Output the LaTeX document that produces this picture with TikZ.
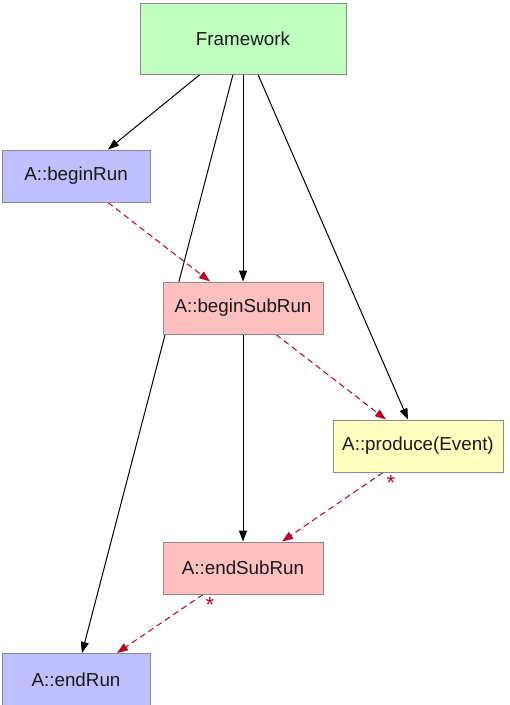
\documentclass[tikz,border=0pt]{standalone}
\usepackage{fontspec}
\setmainfont{Liberation Sans}
\usetikzlibrary{arrows.meta}
\pgfdeclarelayer{edges}
\pgfsetlayers{edges,main}
\definecolor{fwgreen}{HTML}{C0FFC0}
\definecolor{runblue}{HTML}{C0C0FF}
\definecolor{subpink}{HTML}{FFC0C0}
\definecolor{prodyellow}{HTML}{FFFFC0}
\definecolor{boxline}{HTML}{8A8A8A}
\definecolor{seqred}{HTML}{B8002A}
\tikzset{
  box/.style={draw=boxline, line width=1pt, rectangle, inner sep=0pt,
    font=\fontsize{18.8}{21}\selectfont, text=black!90},
  call/.style={black, line width=1pt, -{Triangle[length=11pt,width=8pt]}},
  order/.style={seqred, line width=1pt, dash pattern=on 6pt off 4pt,
    -{Triangle[length=11pt,width=8pt]}},
  many/.style={text=seqred, font=\fontsize{22}{24}\selectfont, inner sep=0pt},
}
\begin{document}
\begin{tikzpicture}[x=1pt,y=-1pt]
  \useasboundingbox (0,0) rectangle (510,705);

  \node[box, fill=fwgreen, minimum width=206pt, minimum height=71pt] (fw) at (243,38.5) {Framework};
  \node[box, fill=runblue, minimum width=148pt, minimum height=52pt] (br) at (76,176) {A::beginRun};
  \node[box, fill=subpink, minimum width=160pt, minimum height=52pt] (bsr) at (243,308) {A::beginSubRun};
  \node[box, fill=prodyellow, minimum width=170pt, minimum height=52pt] (pr) at (418,446) {A::produce(Event)};
  \node[box, fill=subpink, minimum width=160pt, minimum height=52pt] (esr) at (243,568) {A::endSubRun};
  \node[box, fill=runblue, minimum width=148pt, minimum height=52pt] (er) at (76,679.5) {A::endRun};

  \begin{pgfonlayer}{edges}
    % calls from the framework
    \draw[call] ([xshift=-43pt]fw.south) -- ([xshift=32pt]br.north);
    \draw[call] ([xshift=-10pt]fw.south) -- ([xshift=6pt]er.north);
    \draw[call] (fw.south) -- (bsr.north);
    \draw[call] ([xshift=15pt]fw.south) -- ([xshift=-10pt]pr.north);
    \draw[call] (bsr.south) -- (esr.north);
    % ordering between the calls
    \draw[order] ([xshift=32pt]br.south) -- ([xshift=-33pt]bsr.north);
    \draw[order] ([xshift=33pt]bsr.south) -- ([xshift=-32pt]pr.north);
    \draw[order] ([xshift=-35pt]pr.south) -- ([xshift=39pt]esr.north)
      node[many, pos=0, xshift=8pt, yshift=-10pt] {*};
    \draw[order] ([xshift=-40pt]esr.south) -- ([xshift=41pt]er.north)
      node[many, pos=0, xshift=7pt, yshift=-10pt] {*};
  \end{pgfonlayer}
\end{tikzpicture}
\end{document}
